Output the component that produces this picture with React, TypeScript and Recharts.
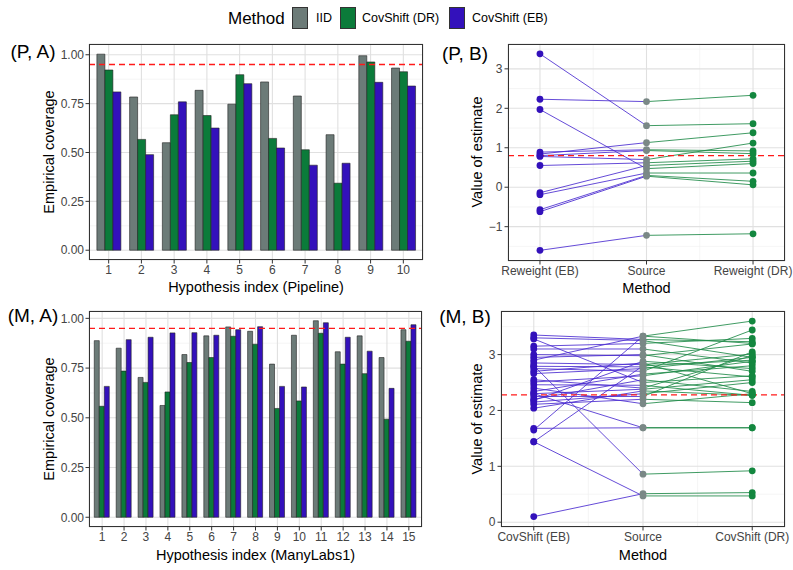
import React from "react"
import {
  Bar,
  BarChart,
  CartesianGrid,
  ComposedChart,
  Line,
  ReferenceLine,
  Scatter,
  XAxis,
  YAxis,
} from "recharts"

const FONT = '"Liberation Sans", Arial, Helvetica, sans-serif'

const IID_FILL = "#6c7b78"
const DR_FILL = "#0b7b3a"
const EB_FILL = "#3311bb"
const EB_LINE = "#4a2bd0"
const DR_LINE = "#1f8a48"
const SRC_POINT = "#7a8886"
const GRID_MAJOR = "#e0e0e0"
const GRID_MINOR = "#eeeeee"
const TICK_TEXT = "#444"

// (P, A) coverage by hypothesis
const pipelineIndex = ["1", "2", "3", "4", "5", "6", "7", "8", "9", "10"]
const pipelineIID = [1.003, 0.784, 0.55, 0.818, 0.747, 0.861, 0.789, 0.591, 0.995, 0.932]
const pipelineDR = [0.922, 0.567, 0.693, 0.689, 0.898, 0.572, 0.514, 0.343, 0.963, 0.913]
const pipelineEB = [0.81, 0.489, 0.759, 0.625, 0.852, 0.523, 0.435, 0.445, 0.859, 0.84]

// (M, A) coverage by hypothesis
const manyLabsIndex = ["1", "2", "3", "4", "5", "6", "7", "8", "9", "10", "11", "12", "13", "14", "15"]
const manyLabsIID = [0.888, 0.85, 0.703, 0.562, 0.818, 0.912, 0.957, 0.935, 0.77, 0.915, 0.988, 0.832, 0.912, 0.803, 0.943]
const manyLabsDR = [0.558, 0.735, 0.678, 0.63, 0.778, 0.803, 0.91, 0.87, 0.547, 0.585, 0.925, 0.77, 0.722, 0.493, 0.885]
const manyLabsEB = [0.658, 0.893, 0.905, 0.927, 0.928, 0.915, 0.943, 0.958, 0.658, 0.655, 0.978, 0.905, 0.835, 0.648, 0.968]

const coverageTicks = [0, 0.25, 0.5, 0.75, 1]
const coverageMinor = [0.125, 0.375, 0.625, 0.875]
const nominalCoverage = 0.95

// (P, B) estimates
const pipelineMethods = ["Reweight (EB)", "Source", "Reweight (DR)"]
const pbEB = [3.38, 2.23, 1.97, 0.89, 0.84, 0.8, 0.78, 0.55, -0.14, -0.19, -0.57, -0.62, -1.6]
const pbSource = [1.56, 2.17, 0.47, 0.95, 1.13, 0.93, 0.7, 0.62, 0.55, 0.36, 0.3, 0.28, -1.22]
const pbDR = [1.61, 2.33, 0.6, 0.92, 1.38, 0.85, 1.12, 0.72, 0.66, 0.36, 0.15, 0.06, -1.18]
const pbTarget = 0.8
const pbTicks = [-1, 0, 1, 2, 3]
const pbMinor = [-1.5, -0.5, 0.5, 1.5, 2.5, 3.5]

// (M, B) estimates
const manyLabsMethods = ["CovShift (EB)", "Source", "CovShift (DR)"]
const mbEB = [0.1, 1.44, 1.44, 1.65, 1.68, 2.3, 2.8, 3.35, 3.3, 3.15, 3.1, 3.0, 2.95, 2.85, 2.79, 2.75, 2.7, 2.66, 2.51, 2.46, 2.34, 2.3, 2.2, 2.15, 2.11, 2.04, 2.25, 2.4, 3.28, 2.9, 2.18, 2.55]
const mbSource = [0.51, 0.47, 2.8, 3.33, 1.69, 1.69, 0.86, 3.27, 3.25, 3.2, 3.1, 2.98, 3.0, 2.82, 2.78, 2.7, 2.85, 2.75, 2.62, 2.45, 2.65, 2.38, 2.55, 2.3, 2.2, 2.35, 2.25, 2.12, 2.5, 3.33, 2.88, 2.4]
const mbDR = [0.53, 0.47, 2.9, 3.6, 1.69, 1.69, 0.92, 3.23, 2.95, 3.29, 2.85, 3.19, 2.7, 3.01, 2.6, 3.44, 2.3, 2.95, 2.88, 2.27, 2.8, 2.55, 2.34, 2.5, 2.14, 2.27, 3.05, 2.3, 2.62, 3.2, 2.75, 2.98]
const mbTarget = 2.28
const mbTicks = [0, 1, 2, 3]
const mbMinor = [0.5, 1.5, 2.5, 3.5]

type Box = { left: number; top: number; width: number; height: number }
type Plot = { x0: number; x1: number; y0: number; y1: number }

const Y_AXIS_W = 34
const X_AXIS_H = 20

function marginFor(chart: Box, plot: Plot) {
  return {
    top: plot.y0 - chart.top,
    right: chart.left + chart.width - plot.x1,
    bottom: chart.top + chart.height - plot.y1 - X_AXIS_H,
    left: plot.x0 - chart.left - Y_AXIS_W,
  }
}

const tickStyle = { fill: TICK_TEXT, fontSize: 12, fontFamily: FONT }

function Label({ x, y, size, rotate, children }: { x: number; y: number; size: number; rotate?: number; children: React.ReactNode }) {
  return (
    <div
      style={{
        position: "absolute",
        left: x,
        top: y,
        transform: `translate(-50%, -50%)${rotate ? ` rotate(${rotate}deg)` : ""}`,
        fontFamily: FONT,
        fontSize: size,
        color: "#000",
        whiteSpace: "nowrap",
        lineHeight: 1,
      }}
    >
      {children}
    </div>
  )
}

function PanelBorder({ plot }: { plot: Plot }) {
  return (
    <div
      style={{
        position: "absolute",
        left: plot.x0,
        top: plot.y0,
        width: plot.x1 - plot.x0,
        height: plot.y1 - plot.y0,
        border: "1px solid #333",
        boxSizing: "border-box",
        pointerEvents: "none",
      }}
    />
  )
}

interface CoverageProps {
  chart: Box
  plot: Plot
  labels: string[]
  iid: number[]
  dr: number[]
  eb: number[]
  yDomain: [number, number]
  padding: number
}

function CoveragePanel({ chart, plot, labels, iid, dr, eb, yDomain, padding }: CoverageProps) {
  const rows = labels.map((idx, i) => ({ idx, iid: iid[i], dr: dr[i], eb: eb[i] }))
  return (
    <>
      <div style={{ position: "absolute", left: chart.left, top: chart.top }}>
        <BarChart
          width={chart.width}
          height={chart.height}
          data={rows}
          margin={marginFor(chart, plot)}
          barCategoryGap="14%"
          barGap={0}
        >
          <CartesianGrid vertical={false} horizontalValues={coverageMinor} stroke={GRID_MINOR} strokeWidth={0.6} />
          <CartesianGrid stroke={GRID_MAJOR} strokeWidth={1.1} />
          <XAxis
            dataKey="idx"
            axisLine={false}
            tickLine={{ stroke: "#333" }}
            tickSize={3.5}
            tickMargin={2}
            tick={tickStyle}
            height={X_AXIS_H}
            padding={{ left: padding, right: padding }}
            interval={0}
          />
          <YAxis
            type="number"
            domain={yDomain}
            allowDataOverflow
            ticks={coverageTicks}
            tickFormatter={(v: number) => v.toFixed(2)}
            axisLine={false}
            tickLine={{ stroke: "#333" }}
            tickSize={3.5}
            tickMargin={1.5}
            tick={tickStyle}
            width={Y_AXIS_W}
          />
          <Bar dataKey="iid" fill={IID_FILL} stroke="#222" strokeWidth={0.6} isAnimationActive={false} />
          <Bar dataKey="dr" fill={DR_FILL} stroke="#222" strokeWidth={0.6} isAnimationActive={false} />
          <Bar dataKey="eb" fill={EB_FILL} stroke="#222" strokeWidth={0.6} isAnimationActive={false} />
          <ReferenceLine y={nominalCoverage} stroke="#ff1a1a" strokeDasharray="6 4" strokeWidth={1.3} />
        </BarChart>
      </div>
      <PanelBorder plot={plot} />
    </>
  )
}

const minusFmt = (v: number) => (v < 0 ? `\u2212${Math.abs(v)}` : `${v}`)

const dotShape = (color: string) => (p: any) => <circle cx={p.cx} cy={p.cy} r={3.4} fill={color} />

interface EstimateProps {
  chart: Box
  plot: Plot
  methods: string[]
  eb: number[]
  source: number[]
  dr: number[]
  target: number
  yDomain: [number, number]
  yTicks: number[]
  yMinor: number[]
}

function EstimatePanel({ chart, plot, methods, eb, source, dr, target, yDomain, yTicks, yMinor }: EstimateProps) {
  const ebPts = eb.map((y) => ({ x: 1, y }))
  const srcPts = source.map((y) => ({ x: 2, y }))
  const drPts = dr.map((y) => ({ x: 3, y }))
  return (
    <>
      <div style={{ position: "absolute", left: chart.left, top: chart.top }}>
        <ComposedChart width={chart.width} height={chart.height} margin={marginFor(chart, plot)}>
          <CartesianGrid horizontalValues={yMinor} verticalValues={[1.5, 2.5]} stroke={GRID_MINOR} strokeWidth={0.6} />
          <CartesianGrid stroke={GRID_MAJOR} strokeWidth={1.1} />
          <XAxis
            type="number"
            dataKey="x"
            domain={[0.7, 3.3]}
            allowDataOverflow
            ticks={[1, 2, 3]}
            interval={0}
            tickFormatter={(v: number) => methods[v - 1]}
            axisLine={false}
            tickLine={{ stroke: "#333" }}
            tickSize={3.5}
            tickMargin={2}
            tick={tickStyle}
            height={X_AXIS_H}
          />
          <YAxis
            type="number"
            dataKey="y"
            domain={yDomain}
            allowDataOverflow
            ticks={yTicks}
            tickFormatter={minusFmt}
            axisLine={false}
            tickLine={{ stroke: "#333" }}
            tickSize={3.5}
            tickMargin={2}
            tick={tickStyle}
            width={Y_AXIS_W}
          />
          {eb.map((v, i) => (
            <Line
              key={`eb${i}`}
              data={[{ x: 1, y: v }, { x: 2, y: source[i] }]}
              dataKey="y"
              stroke={EB_LINE}
              strokeOpacity={0.85}
              strokeWidth={1}
              dot={false}
              activeDot={false}
              isAnimationActive={false}
            />
          ))}
          {dr.map((v, i) => (
            <Line
              key={`dr${i}`}
              data={[{ x: 2, y: source[i] }, { x: 3, y: v }]}
              dataKey="y"
              stroke={DR_LINE}
              strokeOpacity={0.85}
              strokeWidth={1}
              dot={false}
              activeDot={false}
              isAnimationActive={false}
            />
          ))}
          <Scatter data={ebPts} dataKey="y" shape={dotShape(EB_FILL)} isAnimationActive={false} />
          <Scatter data={srcPts} dataKey="y" shape={dotShape(SRC_POINT)} isAnimationActive={false} />
          <Scatter data={drPts} dataKey="y" shape={dotShape("#13873f")} isAnimationActive={false} />
          <ReferenceLine y={target} stroke="#ff1a1a" strokeDasharray="6 4" strokeWidth={1.3} />
        </ComposedChart>
      </div>
      <PanelBorder plot={plot} />
    </>
  )
}

function LegendKey({ x, color }: { x: number; color: string }) {
  return (
    <div
      style={{
        position: "absolute",
        left: x,
        top: 7,
        width: 16,
        height: 22,
        background: color,
        border: "0.5px solid #333",
        boxSizing: "border-box",
      }}
    />
  )
}

function LegendText({ x, size, children }: { x: number; size: number; children: React.ReactNode }) {
  return (
    <div style={{ position: "absolute", left: x, top: 18, transform: "translateY(-50%)", fontFamily: FONT, fontSize: size, lineHeight: 1, whiteSpace: "nowrap" }}>
      {children}
    </div>
  )
}

export default function App() {
  const paPlot = { x0: 89, x1: 423, y0: 44, y1: 260 }
  const maPlot = { x0: 89, x1: 422, y0: 311, y1: 527 }
  const pbPlot = { x0: 508, x1: 785, y0: 44, y1: 261 }
  const mbPlot = { x0: 501, x1: 785, y0: 311, y1: 527 }
  return (
    <div style={{ position: "fixed", left: 0, top: 0, width: 793, height: 570, background: "#fff", overflow: "hidden" }}>
      <LegendText x={228} size={17}>Method</LegendText>
      <LegendKey x={292} color={IID_FILL} />
      <LegendText x={316} size={12.5}>IID</LegendText>
      <LegendKey x={340} color={DR_FILL} />
      <LegendText x={362} size={12.5}>CovShift (DR)</LegendText>
      <LegendKey x={449} color={EB_FILL} />
      <LegendText x={472} size={12.5}>CovShift (EB)</LegendText>

      <CoveragePanel
        chart={{ left: 0, top: 0, width: 440, height: 300 }}
        plot={paPlot}
        labels={pipelineIndex}
        iid={pipelineIID}
        dr={pipelineDR}
        eb={pipelineEB}
        yDomain={[-0.05, 1.055]}
        padding={3.3}
      />
      <CoveragePanel
        chart={{ left: 0, top: 280, width: 440, height: 290 }}
        plot={maPlot}
        labels={manyLabsIndex}
        iid={manyLabsIID}
        dr={manyLabsDR}
        eb={manyLabsEB}
        yDomain={[-0.049, 1.037]}
        padding={2.2}
      />
      <EstimatePanel
        chart={{ left: 440, top: 0, width: 353, height: 300 }}
        plot={pbPlot}
        methods={pipelineMethods}
        eb={pbEB}
        source={pbSource}
        dr={pbDR}
        target={pbTarget}
        yDomain={[-1.87, 3.63]}
        yTicks={pbTicks}
        yMinor={pbMinor}
      />
      <EstimatePanel
        chart={{ left: 440, top: 280, width: 353, height: 290 }}
        plot={mbPlot}
        methods={manyLabsMethods}
        eb={mbEB}
        source={mbSource}
        dr={mbDR}
        target={mbTarget}
        yDomain={[-0.086, 3.78]}
        yTicks={mbTicks}
        yMinor={mbMinor}
      />

      <Label x={33} y={51} size={19}>(P, A)</Label>
      <Label x={465} y={53} size={19}>(P, B)</Label>
      <Label x={33} y={315} size={19}>(M, A)</Label>
      <Label x={465} y={316} size={19}>(M, B)</Label>

      <Label x={49} y={152} size={14.5} rotate={-90}>Empirical coverage</Label>
      <Label x={49} y={419} size={14.5} rotate={-90}>Empirical coverage</Label>
      <Label x={477} y={152} size={14.5} rotate={-90}>Value of estimate</Label>
      <Label x={477} y={419} size={14.5} rotate={-90}>Value of estimate</Label>

      <Label x={256} y={287} size={14.5}>Hypothesis index (Pipeline)</Label>
      <Label x={255.5} y={555} size={14.5}>Hypothesis index (ManyLabs1)</Label>
      <Label x={646.5} y={288} size={14.5}>Method</Label>
      <Label x={643} y={555} size={14.5}>Method</Label>
    </div>
  )
}
